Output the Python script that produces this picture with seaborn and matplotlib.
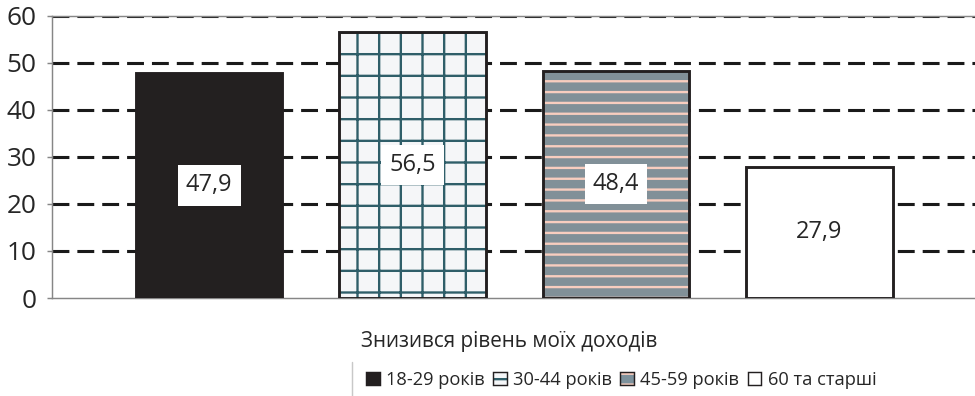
import matplotlib
matplotlib.use("Agg")
import matplotlib.pyplot as plt
import seaborn as sns
import pandas as pd
from matplotlib.lines import Line2D
from matplotlib.patches import Patch

# data
groups = ["18-29 років", "30-44 років", "45-59 років", "60 та старші"]
values = [47.9, 56.5, 48.4, 27.9]
value_labels = ["47,9", "56,5", "48,4", "27,9"]
category = "Знизився рівень моїх доходів"
y_ticks = [0, 10, 20, 30, 40, 50, 60]

# looks of each bar: face, hatch, hatch colour
faces = ["#231f20", "#f5f6f8", "#7d919c", "#ffffff"]
hatches = ["", "+", "--", ""]
hatch_colors = ["#231f20", "#2f5e69", "#f8cdbf", "#231f20"]
edge = "#231f20"
text_col = "#262626"

sns.set_theme(style="white")
plt.rcParams["font.family"] = ["Open Sans", "DejaVu Sans"]
plt.rcParams["hatch.linewidth"] = 1.3

DPI = 130
fig = plt.figure(figsize=(975 / DPI, 396 / DPI), dpi=DPI)
ax = fig.add_axes([52 / 975, 98 / 396, 1 - 52 / 975 + 0.01, 282 / 396])

df = pd.DataFrame({"group": groups, "value": values})
# fill + hatch layer (hatch takes the edge colour, edge itself not drawn)
sns.barplot(df, x="group", y="value", hue="group", palette=faces, width=0.72,
            linewidth=0, legend=False, ax=ax, zorder=3)
n_fill = len(ax.patches)
for patch, h, hc in zip(ax.patches, hatches, hatch_colors):
    patch.set_edgecolor(hc)
    patch.set_hatch(h)

# outline layer
sns.barplot(df, x="group", y="value", color="white", width=0.72,
            linewidth=1.6, ax=ax, zorder=4)
for patch in ax.patches[n_fill:]:
    patch.set_facecolor("none")
    patch.set_edgecolor(edge)

# value labels in white boxes, middle of each bar
for i, (v, lab) in enumerate(zip(values, value_labels)):
    ax.text(i, v / 2, lab, ha="center", va="center", fontsize=13, color=text_col,
            zorder=5, bbox=dict(facecolor="white", edgecolor="none", pad=4.5))

ax.set_xlim(-0.773, 3.773 + 0.04)
ax.set_ylim(0, 60)
ax.set_yticks(y_ticks)
ax.set_xticks([])
ax.set_ylabel("")
ax.set_xlabel(category, fontsize=11.4, color=text_col)
ax.xaxis.set_label_coords(0.49, -0.118)
ax.tick_params(axis="y", left=True, length=2.5, width=0.8, color="#868686",
               pad=6, labelsize=14.5, labelcolor=text_col)

ax.set_axisbelow(True)
ax.yaxis.grid(True, color="#1a1a1a", linewidth=1.7, linestyle=(0, (5.5, 2.6)))
ax.get_ygridlines()[0].set_visible(False)

for side in ["left", "bottom", "top"]:
    ax.spines[side].set_color("#868686")
    ax.spines[side].set_linewidth(0.8)
ax.spines["right"].set_visible(False)

handles = [(Patch(facecolor=f, edgecolor=hc, hatch=h, linewidth=0),
            Patch(facecolor="none", edgecolor=edge, linewidth=0.8))
           for f, h, hc in zip(faces, hatches, hatch_colors)]
fig.legend(handles, groups, ncol=4, loc="center", bbox_to_anchor=(0.637, 1 - 380 / 396),
           frameon=False, fontsize=10.1, handlelength=0.75, handleheight=0.75,
           handletextpad=0.35, columnspacing=0.45, labelcolor=text_col)
fig.add_artist(Line2D([352 / 975, 352 / 975], [0, 34 / 396], transform=fig.transFigure,
                      color="#c8c8c8", linewidth=0.8))

fig.savefig("out.png", dpi=DPI)
